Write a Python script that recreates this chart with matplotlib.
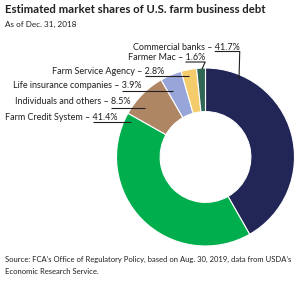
import matplotlib
matplotlib.use("Agg")
import matplotlib.pyplot as plt

categories = ["Commercial banks", "Farm Credit System", "Individuals and others",
              "Life insurance companies", "Farm Service Agency", "Farmer Mac"]
shares = [41.7, 41.4, 8.5, 3.9, 2.8, 1.6]
colors = ["#222657", "#00ae4d", "#ae8664", "#98a5d8", "#f5cc6c", "#2f6655"]

W, H = 301, 281
fig = plt.figure(figsize=(W / 100, H / 100), dpi=100)
fig.patch.set_facecolor("white")

FONT = "Lato"
TXT = "#231f20"

# Donut
cx, cy, R = 205.5, 157, 89
pax = fig.add_axes([(cx - R) / W, (H - cy - R) / H, 2 * R / W, 2 * R / H])
pax.pie(shares, colors=colors, startangle=90, counterclock=False,
        wedgeprops=dict(width=0.49, edgecolor="white", linewidth=0.8))
pax.set_xlim(-1, 1)
pax.set_ylim(-1, 1)
pax.set_aspect("equal")
pax.axis("off")

# overlay in pixel coordinates
ov = fig.add_axes([0, 0, 1, 1])
ov.set_xlim(0, W)
ov.set_ylim(H, 0)
ov.axis("off")
ov.patch.set_alpha(0)

fig.canvas.draw()
renderer = fig.canvas.get_renderer()
inv = ov.transData.inverted()


def fit(t, target_w):
    bb = t.get_window_extent(renderer)
    t.set_fontsize(t.get_fontsize() * target_w / bb.width)


title = ov.text(5, 9.5, "Estimated market shares of U.S. farm business debt", fontsize=9.6,
                fontweight="bold", family=FONT, color=TXT, va="center", ha="left")
fit(title, 263)
sub = ov.text(5, 24, "As of Dec. 31, 2018", fontsize=6.4, family=FONT, color=TXT,
              va="center", ha="left")
fit(sub, 71)
src1 = ov.text(5, 259.5, "Source: FCA\u2019s Office of Regulatory Policy, based on Aug. 30, 2019, data from USDA\u2019s",
               fontsize=5.5, family=FONT, color=TXT, va="center", ha="left")
fit(src1, 288)
ov.text(5, 271.5, "Economic Research Service.", fontsize=src1.get_fontsize(), family=FONT,
        color=TXT, va="center", ha="left")

# label layout: (text left x, text center y, underline y, end x, end y)
layout = {
    "Commercial banks": (133, 47, 51.5, 239, 79),
    "Farmer Mac": (128, 57.5, 62, 202, 69),
    "Farm Service Agency": (52, 72, 76, 189, 76),
    "Life insurance companies": (13, 86, 90.5, 173, 90.5),
    "Individuals and others": (15, 102, 107.5, 145, 107.5),
    "Farm Credit System": (5, 117, 121.5, 131, 121.5),
}

for cat, val in zip(categories, shares):
    x, y, uy, ex, ey = layout[cat]
    val_s = f"{val}%"
    t = ov.text(x, y, f"{cat} \u2013 {val_s}", fontsize=6.5, family=FONT, color=TXT,
                va="center", ha="left")
    tv = ov.text(x, y, val_s, fontsize=6.5, family=FONT, color=TXT,
                 va="center", ha="left", alpha=0)
    bb = t.get_window_extent(renderer)
    bv = tv.get_window_extent(renderer)
    tv.remove()
    right = inv.transform((bb.x1, bb.y0))[0]
    start = right - bv.width
    xs = [start, max(ex, right)]
    ys = [uy, uy]
    if ey != uy:
        xs.append(ex)
        ys.append(ey)
    ov.plot(xs, ys, color=TXT, lw=0.8, solid_capstyle="butt")

fig.savefig("out.png", dpi=100, facecolor="white")
